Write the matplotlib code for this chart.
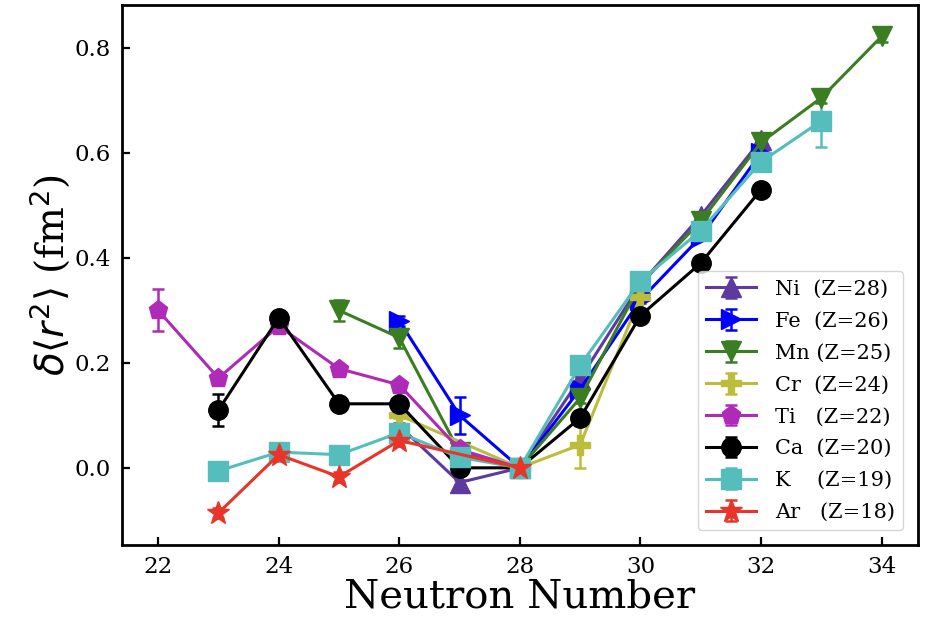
import matplotlib
matplotlib.use("Agg")
import matplotlib.pyplot as plt
import numpy as np

plt.rcParams['font.family'] = 'DejaVu Serif'
plt.rcParams['mathtext.fontset'] = 'dejavusans'

# neutron numbers and delta <r^2> (fm^2) per isotope chain
ni_n = [26, 27, 28, 29, 30, 31, 32]
ni_v = [0.08, -0.028, 0.0, 0.17, 0.35, 0.48, 0.625]
ni_e = [0.005, 0.005, 0.0, 0.005, 0.005, 0.005, 0.01]

fe_n = [26, 27, 28, 29, 30, 31, 32]
fe_v = [0.28, 0.10, 0.0, 0.15, 0.32, 0.44, 0.60]
fe_e = [0.01, 0.035, 0.0, 0.005, 0.005, 0.005, 0.01]

mn_n = [25, 26, 27, 28, 29, 30, 31, 32, 33, 34]
mn_v = [0.30, 0.248, 0.03, 0.0, 0.133, 0.35, 0.47, 0.62, 0.705, 0.822]
mn_e = [0.02, 0.02, 0.005, 0.0, 0.01, 0.005, 0.01, 0.01, 0.01, 0.01]

cr_n = [26, 28, 29, 30]
cr_v = [0.10, 0.0, 0.044, 0.326]
cr_e = [0.005, 0.0, 0.045, 0.01]

ti_n = [22, 23, 24, 25, 26, 27, 28]
ti_v = [0.30, 0.171, 0.27, 0.189, 0.158, 0.035, 0.0]
ti_e = [0.04, 0.01, 0.005, 0.005, 0.005, 0.005, 0.0]

ca_n = [23, 24, 25, 26, 27, 28, 29, 30, 31, 32]
ca_v = [0.11, 0.286, 0.122, 0.122, 0.0, 0.0, 0.095, 0.29, 0.39, 0.53]
ca_e = [0.03, 0.005, 0.005, 0.005, 0.005, 0.0, 0.005, 0.005, 0.005, 0.005]

k_n = [23, 24, 25, 26, 27, 28, 29, 30, 31, 32, 33]
k_v = [-0.006, 0.03, 0.025, 0.067, 0.02, 0.0, 0.195, 0.356, 0.452, 0.583, 0.661]
k_e = [0.005, 0.005, 0.005, 0.005, 0.005, 0.0, 0.005, 0.005, 0.005, 0.01, 0.05]

ar_n = [23, 24, 25, 26, 28]
ar_v = [-0.086, 0.025, -0.017, 0.052, 0.0]
ar_e = [0.01, 0.01, 0.01, 0.01, 0.0]

series = [
    (ni_n, ni_v, ni_e, '#5e3a9e', '^', 'Ni  (Z=28)'),
    (fe_n, fe_v, fe_e, '#0000ff', '>', 'Fe  (Z=26)'),
    (mn_n, mn_v, mn_e, '#3a7d22', 'v', 'Mn (Z=25)'),
    (cr_n, cr_v, cr_e, '#bcbd3a', 'P', 'Cr  (Z=24)'),
    (ti_n, ti_v, ti_e, '#b02ab8', 'p', 'Ti   (Z=22)'),
    (ca_n, ca_v, ca_e, '#000000', 'o', 'Ca  (Z=20)'),
    (k_n, k_v, k_e, '#56bdbd', 's', 'K    (Z=19)'),
    (ar_n, ar_v, ar_e, '#e8352a', '*', 'Ar   (Z=18)'),
]

fig = plt.figure(figsize=(9.27, 6.2), dpi=100)
ax = fig.add_axes([0.1316, 0.121, 0.8584, 0.871])

for n, v, e, c, m, lab in series:
    ms = 17 if m == '*' else 14
    ax.errorbar(n, v, yerr=e, color=c, marker=m, markersize=ms, lw=2.2,
                capsize=4, elinewidth=1.8, capthick=1.8, label=lab)

ax.set_xlim(21.4, 34.6)
ax.set_ylim(-0.147, 0.882)
ax.set_xticks([22, 24, 26, 28, 30, 32, 34])
ax.set_yticks([0.0, 0.2, 0.4, 0.6, 0.8])
ax.tick_params(direction='in', length=6, width=1.6, labelsize=16.5, pad=8)
for sp in ax.spines.values():
    sp.set_linewidth(2)

ax.set_xlabel('Neutron Number', fontsize=29, labelpad=0)
ax.set_ylabel(r'$\delta\langle r^2\rangle$ (fm$^2$)', fontsize=28, labelpad=2)

ax.legend(loc='lower right', fontsize=15, handlelength=2.4,
          borderpad=0.4, labelspacing=0.62, handletextpad=0.9,
          borderaxespad=0.7)

fig.savefig('out.png', dpi=100)
